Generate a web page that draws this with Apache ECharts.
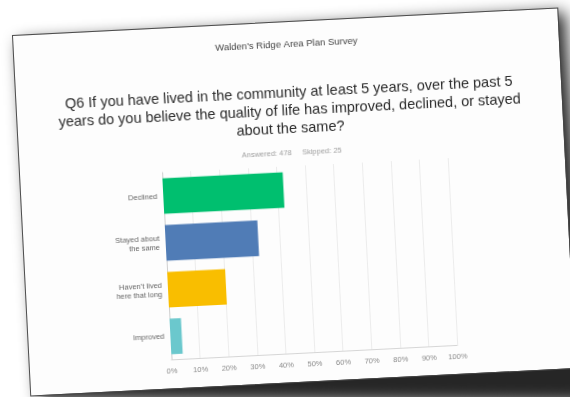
<!DOCTYPE html>
<html>
<head>
<meta charset="utf-8">
<script src="https://cdn.jsdelivr.net/npm/echarts@6/dist/echarts.min.js"></script>
<style>
  html, body { margin: 0; padding: 0; width: 570px; height: 397px; overflow: hidden; background: #ffffff; }
  #shadowWrap { position: absolute; left: 13.3px; top: 36px; width: 640px; height: 440px;
    transform-origin: 0 0; transform: rotate(-2.9deg); filter: blur(8px); }
  #shadowShape { position: absolute; left: 0; top: 0; width: 640px; height: 440px;
    background: rgba(0,0,0,0.85);
    clip-path: polygon(6px 6px, 552px 4px, 560px 396px, 8px 366px); }
  #paper { position: absolute; left: 13.3px; top: 36px; width: 545px; height: 360px;
    transform-origin: 0 0; transform: rotate(-2.9deg); background: #fdfdfd;
    outline: 1px solid rgba(70,70,70,0.95); }
  #chart { position: absolute; left: 0; top: 0; width: 545px; height: 360px; }
</style>
</head>
<body>
<div id="shadowWrap"><div id="shadowShape"></div></div>
<div id="paper"><div id="chart"></div></div>
<script>
// ---- data ----
const surveyName = "Walden's Ridge Area Plan Survey";
const questionLines = [
  "Q6 If you have lived in the community at least 5 years, over the past 5",
  "years do you believe the quality of life has improved, declined, or stayed",
  "about the same?"
];
const answeredText = "Answered: 478";
const skippedText = "Skipped: 25";
const categories = ["Declined", "Stayed about\nthe same", "Haven\u2019t lived\nhere that long", "Improved"];
const values = [42.1, 32.4, 20.3, 4.0];
const tickLabels = ["0%", "10%", "20%", "30%", "40%", "50%", "60%", "70%", "80%", "90%", "100%"];

// ---- styles ----
const barColors = ["#00bf6f", "#507cb6", "#f9be00", "#6bc8cd"];
const titleFont = "'Liberation Sans', Arial, sans-serif";
const labelFont = "'Liberation Sans', Arial, sans-serif";

const chart = echarts.init(document.getElementById('chart'), null, { renderer: 'canvas' });
chart.setOption({
  backgroundColor: 'transparent',
  animation: false,
  title: [
    {
      text: surveyName, left: 'center', top: 16, padding: 0,
      textStyle: { fontFamily: titleFont, fontSize: 9.5, fontWeight: 'normal', color: '#444', lineHeight: 12 }
    },
    {
      text: questionLines.join("\n"), left: 'center', top: 62, padding: 0,
      textStyle: { fontFamily: titleFont, fontSize: 14.5, fontWeight: 'normal', color: '#2b2b2b', lineHeight: 18 }
    },
    {
      text: answeredText + "     " + skippedText, left: 'center', top: 126, padding: [0, 0, 0, 7],
      textStyle: { fontFamily: labelFont, fontSize: 7.5, fontWeight: 'normal', color: '#a0a0a0', lineHeight: 10 }
    }
  ],
  grid: { left: 142, right: 117, top: 144, bottom: 28.5, containLabel: false },
  xAxis: {
    type: 'value', min: 0, max: 100, interval: 10,
    axisLine: { show: true, lineStyle: { color: '#d6d6d6', width: 1 } },
    axisTick: { show: false },
    splitLine: { show: true, lineStyle: { color: '#ececec', width: 1 } },
    axisLabel: {
      margin: 7, fontFamily: labelFont, fontSize: 7.5, color: '#8a8a8a',
      formatter: function (v) { return tickLabels[Math.round(v / 10)]; }
    }
  },
  yAxis: {
    type: 'category', data: categories, inverse: true,
    axisLine: { show: true, lineStyle: { color: '#cfcfcf', width: 1 } },
    axisTick: { show: false },
    splitLine: { show: false },
    axisLabel: { margin: 6, fontFamily: labelFont, fontSize: 7.5, color: '#666', lineHeight: 9, align: 'right' }
  },
  series: [{
    type: 'bar',
    data: values,
    barWidth: '76%',
    itemStyle: {
      color: function (p) { return barColors[p.dataIndex]; }
    },
    label: { show: false }
  }]
});
</script>
</body>
</html>
